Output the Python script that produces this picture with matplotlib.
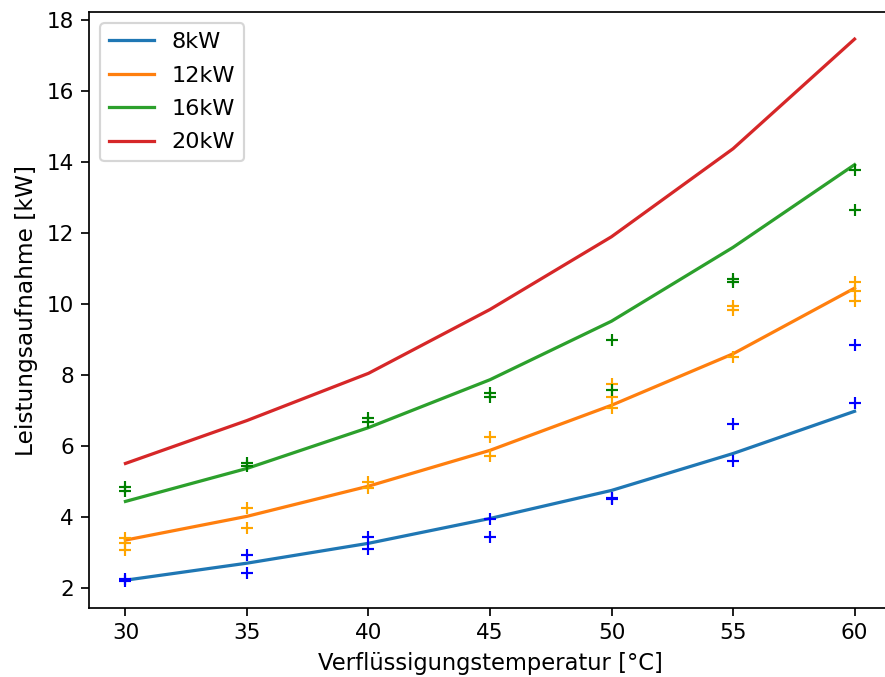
import matplotlib

matplotlib.use("Agg")
from matplotlib import pyplot as plt

# condensing temperature [°C]
temps = [30, 35, 40, 45, 50, 55, 60]

# fitted power consumption per heat pump size [kW]
fit_8kw = [2.22, 2.70, 3.26, 3.96, 4.75, 5.79, 6.98]
fit_12kw = [3.35, 4.02, 4.87, 5.88, 7.15, 8.60, 10.45]
fit_16kw = [4.44, 5.37, 6.52, 7.87, 9.52, 11.60, 13.93]
fit_20kw = [5.51, 6.72, 8.05, 9.85, 11.90, 14.38, 17.47]

# measured points (datasheet values)
meas_8kw_t = [30, 30, 35, 35, 40, 40, 45, 45, 50, 50, 55, 55, 60, 60]
meas_8kw = [2.20, 2.25, 2.93, 2.42, 3.45, 3.10, 3.94, 3.43, 4.50, 4.55,
            6.63, 5.57, 8.85, 7.20]

meas_12kw_t = [30, 30, 30, 35, 35, 40, 40, 45, 45, 50, 50, 50,
               55, 55, 55, 60, 60, 60]
meas_12kw = [3.40, 3.26, 3.07, 4.25, 3.68, 4.98, 4.83, 6.25, 5.73,
             7.75, 7.38, 7.08, 9.94, 9.83, 8.51, 10.62, 10.37, 10.08]

meas_16kw_t = [30, 30, 35, 35, 40, 40, 45, 45, 50, 50, 55, 55, 60, 60]
meas_16kw = [4.86, 4.72, 5.52, 5.44, 6.80, 6.69, 7.50, 7.37, 8.99, 7.59,
             10.72, 10.62, 13.79, 12.64]

dpi = 155
fig = plt.figure(figsize=(885 / dpi, 677 / dpi), dpi=dpi)
ax = fig.add_axes([89 / 885, 1 - 608 / 677, 802 / 885, 596 / 677])

ax.plot(temps, fit_8kw, label="8kW")
ax.plot(temps, fit_12kw, label="12kW")
ax.plot(temps, fit_16kw, label="16kW")
ax.plot(temps, fit_20kw, label="20kW")

ax.plot(meas_8kw_t, meas_8kw, "+", color="blue")
ax.plot(meas_12kw_t, meas_12kw, "+", color="orange")
ax.plot(meas_16kw_t, meas_16kw, "+", color="green")

ax.set_xlabel("Verflüssigungstemperatur [°C]", fontsize=10.5)
ax.set_ylabel("Leistungsaufnahme [kW]", fontsize=10.8)
ax.legend(loc="upper left", fontsize=10.4, labelspacing=0.6)

fig.savefig("out.png", dpi=dpi)
